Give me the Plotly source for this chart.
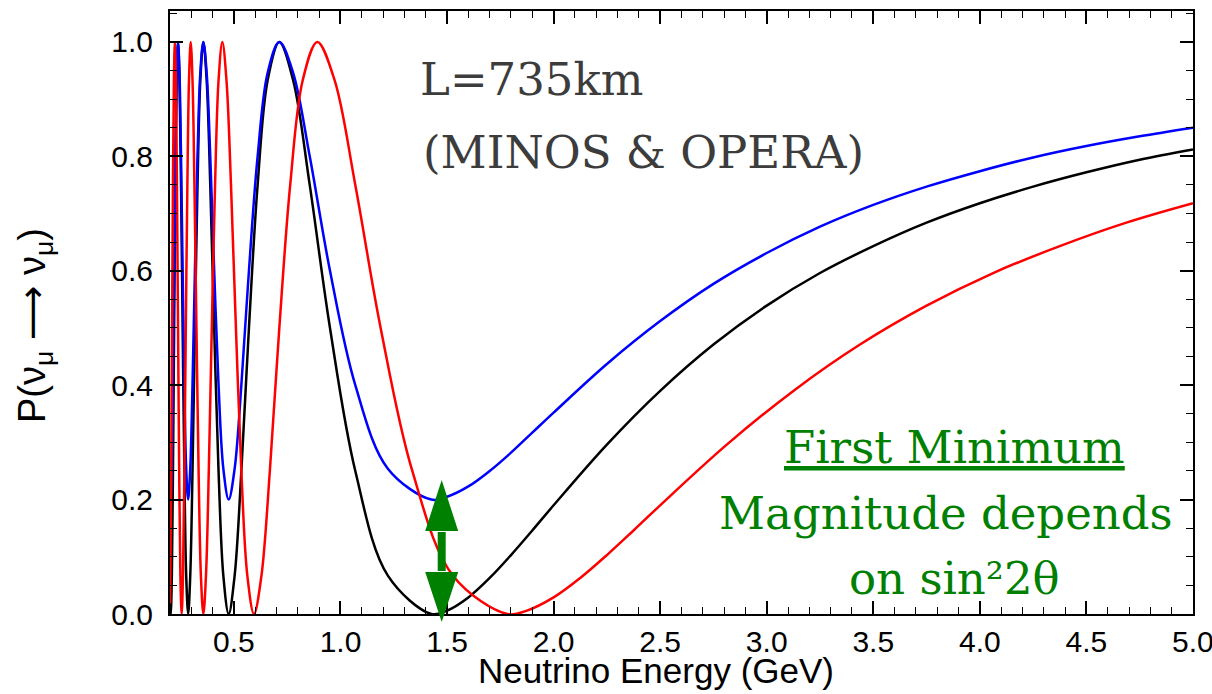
import plotly.graph_objects as go

# ---------------- data ----------------
# Black curve (sin^2 2theta = 1, dm^2 ~ 2.4e-3)
black_E = [0.2, 0.2037, 0.2087, 0.2139, 0.2194, 0.2252, 0.2313, 0.2377, 0.2445, 0.2517,
           0.2593, 0.2674, 0.2760, 0.2852, 0.2950, 0.3056, 0.3169, 0.3291, 0.3423, 0.3565,
           0.3720, 0.3889, 0.4074, 0.4278, 0.4503, 0.4753, 0.5033, 0.5348, 0.5704, 0.6112,
           0.6582, 0.7130, 0.7778, 0.8556, 0.9507, 1.0695, 1.2223, 1.4260, 1.5, 1.6,
           1.7, 1.8, 1.9, 2.0, 2.25, 2.5, 2.75, 3.0, 3.25, 3.5,
           3.75, 4.0, 4.25, 4.5, 4.75, 5.0]
black_P = [0.041, 0.0, 0.067, 0.25, 0.5, 0.75, 0.933, 1.0, 0.933, 0.75,
           0.5, 0.25, 0.067, 0.0, 0.067, 0.25, 0.5, 0.75, 0.933, 1.0,
           0.933, 0.75, 0.5, 0.25, 0.067, 0.0, 0.067, 0.25, 0.5, 0.75,
           0.933, 1.0, 0.933, 0.75, 0.5, 0.25, 0.067, 0.0, 0.006, 0.029,
           0.063, 0.103, 0.146, 0.190, 0.296, 0.390, 0.471, 0.539, 0.596, 0.643,
           0.684, 0.718, 0.747, 0.772, 0.794, 0.812]

# Blue curve (sin^2 2theta = 0.8, same dm^2 as black)
blue_E = list(black_E)
blue_P = [0.233, 0.2, 0.254, 0.4, 0.6, 0.8, 0.946, 1.0, 0.946, 0.8,
          0.6, 0.4, 0.254, 0.2, 0.254, 0.4, 0.6, 0.8, 0.946, 1.0,
          0.946, 0.8, 0.6, 0.4, 0.254, 0.2, 0.254, 0.4, 0.6, 0.8,
          0.946, 1.0, 0.946, 0.8, 0.6, 0.4, 0.254, 0.2, 0.205, 0.223,
          0.250, 0.282, 0.317, 0.352, 0.437, 0.512, 0.577, 0.631, 0.677, 0.715,
          0.747, 0.774, 0.798, 0.818, 0.835, 0.850]

# Red curve (sin^2 2theta = 1, larger dm^2 ~ 3.0e-3)
red_E = [0.2, 0.2018, 0.2057, 0.2097, 0.2139, 0.2183, 0.2228, 0.2276, 0.2325, 0.2377,
         0.2431, 0.2487, 0.2547, 0.2609, 0.2674, 0.2742, 0.2815, 0.2891, 0.2971, 0.3056,
         0.3146, 0.3241, 0.3342, 0.3450, 0.3565, 0.3688, 0.3820, 0.3961, 0.4114, 0.4278,
         0.4456, 0.4650, 0.4862, 0.5093, 0.5348, 0.5629, 0.5942, 0.6291, 0.6685, 0.7130,
         0.7640, 0.8227, 0.8913, 0.9723, 1.0695, 1.1884, 1.3369, 1.5279, 1.7826, 1.875,
         2.0, 2.125, 2.25, 2.375, 2.5, 2.8125, 3.125, 3.4375, 3.75, 4.0625,
         4.375, 4.6875, 5.0]
red_P = [0.019, 0.067, 0.25, 0.5, 0.75, 0.933, 1.0, 0.933, 0.75, 0.5,
         0.25, 0.067, 0.0, 0.067, 0.25, 0.5, 0.75, 0.933, 1.0, 0.933,
         0.75, 0.5, 0.25, 0.067, 0.0, 0.067, 0.25, 0.5, 0.75, 0.933,
         1.0, 0.933, 0.75, 0.5, 0.25, 0.067, 0.0, 0.067, 0.25, 0.5,
         0.75, 0.933, 1.0, 0.933, 0.75, 0.5, 0.25, 0.067, 0.0, 0.006,
         0.029, 0.063, 0.103, 0.146, 0.190, 0.296, 0.390, 0.471, 0.539, 0.596,
         0.643, 0.684, 0.718]

x_range = [0.2, 5.0002]
y_range = [0.0, 1.054]
x_ticks = [0.5, 1.0, 1.5, 2.0, 2.5, 3.0, 3.5, 4.0, 4.5, 5.0]
x_ticklabels = ["0.5", "1.0", "1.5", "2.0", "2.5", "3.0", "3.5", "4.0", "4.5", "5.0"]
y_ticks = [0.0, 0.2, 0.4, 0.6, 0.8, 1.0]
y_ticklabels = ["0.0", "0.2", "0.4", "0.6", "0.8", "1.0"]
x_title = "Neutrino Energy (GeV)"
y_title = ("P(ν<sub>μ</sub> <span style='font-family:DejaVu Sans'>⟶</span> "
           "ν<sub>μ</sub>)")
label_baseline = ["L=735km", "(MINOS & OPERA)"]
label_green = ["<span style='text-decoration:underline'>First Minimum</span>",
               "Magnitude depends", "on sin²2θ"]

# ---------------- layout geometry (pixels) ----------------
FW, FH = 1212, 694
PL, PR, PT, PB = 170, 1193, 11, 614
W, H = PR - PL, PB - PT


def px(x):
    return (x - PL) / W


def py(y):
    return (PB - y) / H


SANS = "Liberation Sans, Arial, Helvetica, sans-serif"
SERIF = "DejaVu Serif, serif"
GREEN = "#008000"

fig = go.Figure()
for xs, ys, col in [(black_E, black_P, "#000000"),
                    (blue_E, blue_P, "#0000ff"),
                    (red_E, red_P, "#ff0000")]:
    fig.add_trace(go.Scatter(x=xs, y=ys, mode="lines",
                             line=dict(color=col, width=2.5, shape="spline"),
                             showlegend=False, hoverinfo="skip"))

axis_common = dict(showline=True, linecolor="black", linewidth=2, mirror="allticks",
                   ticks="inside", ticklen=13, tickwidth=1.5, tickcolor="black",
                   showgrid=False, zeroline=False, ticklabeloverflow="allow",
                   automargin=False,
                   tickfont=dict(family=SANS, size=30, color="black"))

fig.update_layout(
    width=FW, height=FH,
    margin=dict(l=PL, r=FW - PR, t=PT, b=FH - PB, autoexpand=False),
    paper_bgcolor="white", plot_bgcolor="white",
    xaxis=dict(range=x_range, tickmode="array", tickvals=x_ticks, ticktext=x_ticklabels,
               minor=dict(ticks="inside", ticklen=7, tickwidth=1.2, tickcolor="black",
                          dtick=0.1, tick0=0, showgrid=False),
               ticklabelstandoff=0, **axis_common),
    yaxis=dict(range=y_range, tickmode="array", tickvals=y_ticks, ticktext=y_ticklabels,
               minor=dict(ticks="inside", ticklen=7, tickwidth=1.2, tickcolor="black",
                          dtick=0.05, tick0=0, showgrid=False),
               ticklabelstandoff=9, **axis_common),
)

ann = []
ann.append(dict(text=x_title, x=px(656), y=py(671), xref="paper", yref="paper",
                xanchor="center", yanchor="middle", showarrow=False,
                font=dict(family=SANS, size=35, color="black")))
ann.append(dict(text=y_title, x=px(34), y=py(326), xref="paper", yref="paper",
                xanchor="center", yanchor="middle", showarrow=False, textangle=-90,
                font=dict(family=SANS, size=38, color="black")))
ann.append(dict(text=label_baseline[0], x=px(418), y=py(79), xref="paper", yref="paper",
                xanchor="left", yanchor="middle", showarrow=False,
                font=dict(family=SERIF, size=45, color="#3c3c3c")))
ann.append(dict(text=label_baseline[1], x=px(421), y=py(152), xref="paper", yref="paper",
                xanchor="left", yanchor="middle", showarrow=False,
                font=dict(family=SERIF, size=45, color="#3c3c3c")))
for txt, cx, cy in zip(label_green, [954, 946, 954], [448, 513, 578]):
    ann.append(dict(text=txt, x=px(cx), y=py(cy), xref="paper", yref="paper",
                    xanchor="center", yanchor="middle", showarrow=False,
                    font=dict(family=SERIF, size=45, color=GREEN)))
fig.update_layout(annotations=ann)

# green double-headed arrow (pixel geometry)
ax = 441.7
hw = 16.5
top_tip, top_base = 480, 531
bot_tip, bot_base = 622, 572


def path(points):
    s = "M " + " L ".join(f"{px(a):.5f},{py(b):.5f}" for a, b in points) + " Z"
    return s


shapes = [
    dict(type="path", xref="paper", yref="paper",
         path=path([(ax, top_tip), (ax - hw, top_base), (ax + hw, top_base)]),
         fillcolor=GREEN, line=dict(width=0)),
    dict(type="path", xref="paper", yref="paper",
         path=path([(ax, bot_tip), (ax - hw, bot_base), (ax + hw, bot_base)]),
         fillcolor=GREEN, line=dict(width=0)),
    dict(type="line", xref="paper", yref="paper",
         x0=px(ax), x1=px(ax), y0=py(top_base + 1), y1=py(bot_base - 1),
         line=dict(color=GREEN, width=8)),
]
fig.update_layout(shapes=shapes)

fig.write_html("out.html")
